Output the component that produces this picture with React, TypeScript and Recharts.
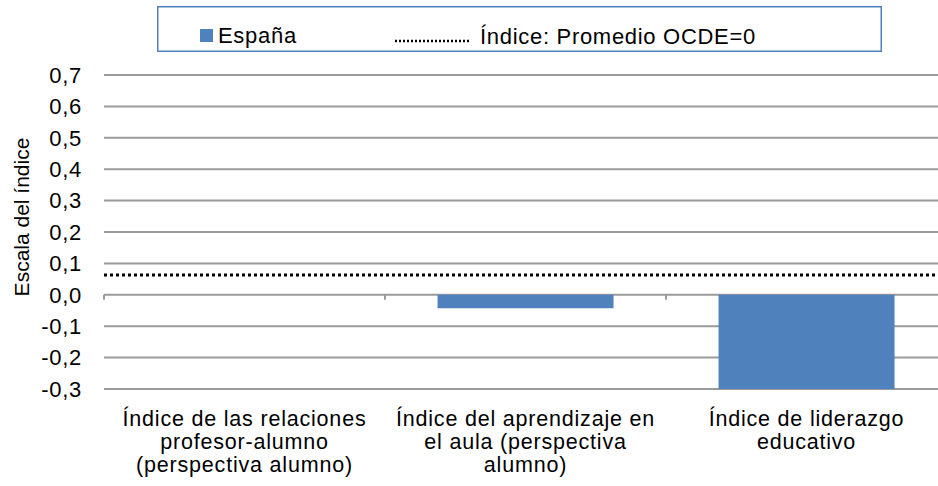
import React from "react"
import { BarChart, Bar, XAxis, YAxis, CartesianGrid, ReferenceLine, Legend, Label } from "recharts"

const categories = ["rel", "aula", "lider"]
const categoryLines = [
  ["Índice de las relaciones", "profesor-alumno", "(perspectiva alumno)"],
  ["Índice del aprendizaje en", "el aula (perspectiva", "alumno)"],
  ["Índice de liderazgo", "educativo"],
]
const espana = [0, -0.043, -0.306]
const ocdeLevel = 0.063
const yTicks = [-0.3, -0.2, -0.1, 0, 0.1, 0.2, 0.3, 0.4, 0.5, 0.6, 0.7]
const seriesName = "España"
const refName = "Índice: Promedio OCDE=0"
const yTitle = "Escala del índice"

const FONT = '"Liberation Sans", Arial, sans-serif'
const BLUE = "#4F81BD"

if (typeof document !== "undefined") {
  document.body.style.margin = "0"
  document.body.style.overflow = "hidden"
}

const data = categories.map((c, i) => ({ cat: c, espana: espana[i] }))

const fmt = (v: number) => v.toFixed(1).replace(".", ",")

// each label line is its own text so they stack like Excel's wrapped labels
const CategoryTick = (props: any) => {
  const { x, y, index } = props
  const lines = categoryLines[index] || []
  return (
    <g>
      {lines.map((l, i) => (
        <text
          key={i}
          x={x}
          y={y + 37 + i * 22.8}
          textAnchor="middle"
          fontFamily={FONT}
          fontSize={21.5}
          letterSpacing={0.8}
          fill="#000"
        >
          {l}
        </text>
      ))}
    </g>
  )
}

const LegendBox = () => (
  <svg width={725} height={46} style={{ display: "block" }}>
    <rect x={0.75} y={0.75} width={723.5} height={44.5} fill="#fff" stroke={BLUE} strokeWidth={1.5} />
    <rect x={43} y={23} width={13} height={13} fill={BLUE} />
    <text x={61} y={37} fontFamily={FONT} fontSize={22} letterSpacing={0.7} fill="#000">
      {seriesName}
    </text>
    <line x1={238} y1={35} x2={313} y2={35} stroke="#000" strokeWidth={2.5} strokeDasharray="2 2" />
    <text x={323} y={38} fontFamily={FONT} fontSize={22} letterSpacing={0.7} fill="#000">
      {refName}
    </text>
  </svg>
)

const YTitle = () => (
  <text
    x={21}
    y={217}
    transform="rotate(-90 21 217)"
    textAnchor="middle"
    dominantBaseline="central"
    fontFamily={FONT}
    fontSize={21}
    fill="#000"
  >
    {yTitle}
  </text>
)

export default function App() {
  return (
    <div style={{ width: 938, height: 486, overflow: "hidden", position: "relative", background: "#fff" }}>
      <BarChart
        width={960}
        height={486}
        data={data}
        margin={{ top: 75, right: 13, bottom: 0, left: 0 }}
        barCategoryGap="18.7%"
        style={{ fontFamily: FONT }}
      >
        <CartesianGrid vertical={false} stroke="#9a9a9a" strokeWidth={2} />
        <XAxis
          dataKey="cat"
          height={97}
          axisLine={false}
          tickLine={false}
          tickSize={0}
          tickMargin={0}
          interval={0}
          tick={<CategoryTick />}
        />
        <YAxis
          width={104}
          domain={[-0.3, 0.7]}
          ticks={yTicks}
          allowDataOverflow
          axisLine={false}
          tickLine={false}
          tickSize={0}
          tickMargin={22}
          tickFormatter={fmt}
          tick={{ fill: "#000", fontSize: 22, letterSpacing: 0.7 }}
        >
          <Label content={<YTitle />} />
        </YAxis>
        <Legend
          layout="horizontal"
          verticalAlign="middle"
          align="center"
          content={<LegendBox />}
          wrapperStyle={{ top: 6, left: 157, width: 725, height: 46 }}
        />
        <Bar dataKey="espana" name={seriesName} fill={BLUE} isAnimationActive={false} />
        <ReferenceLine y={ocdeLevel} stroke="#000" strokeWidth={3} strokeDasharray="3 3" />
        {categories.map((c) => (
          <ReferenceLine
            key={c}
            segment={[
              { x: c, y: 0 },
              { x: c, y: -0.016 },
            ]}
            position="start"
            stroke="#9a9a9a"
            strokeWidth={2}
          />
        ))}
      </BarChart>
    </div>
  )
}
